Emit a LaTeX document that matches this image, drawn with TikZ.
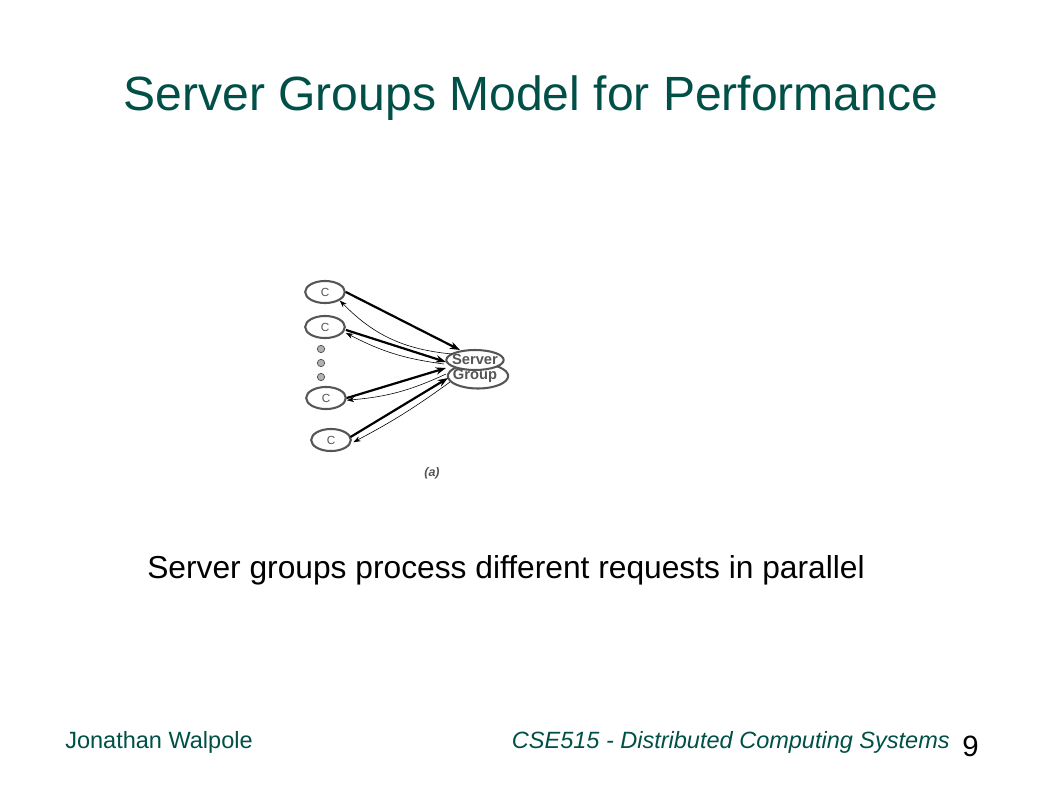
\documentclass[tikz,border=0pt]{standalone}
\usepackage{fontspec}
\setmainfont{Liberation Sans}
\usetikzlibrary{arrows.meta,shapes.geometric}
\definecolor{teal1}{RGB}{0,80,72}
\definecolor{ellgray}{RGB}{85,85,85}
\begin{document}
\begin{tikzpicture}[x=0.6805pt,y=-0.6805pt,
  cnode/.style={draw=ellgray,line width=1.4pt,ellipse,minimum width=27pt,minimum height=15pt,inner sep=0pt,font=\fontsize{8}{9}\selectfont\color{ellgray}},
  sgell/.style={draw=ellgray,line width=1.4pt,ellipse,inner sep=0pt},
  sgtext/.style={font=\bfseries\fontsize{10}{11}\selectfont,text=ellgray,inner sep=0pt},
  dotn/.style={circle,draw=ellgray,fill=gray!60,line width=0.5pt,minimum size=5pt,inner sep=0pt},
  req/.style={line width=1.5pt,-{Stealth[length=7pt,width=5pt]}},
  rep/.style={line width=0.4pt,-{Stealth[length=5pt,width=3.5pt]}},
  every node/.style={text depth=0pt}]
\useasboundingbox (0,0) rectangle (1058,793);
\fill[white] (0,0) rectangle (1058,793);
% title
\node[anchor=base,text=teal1,font=\fontsize{32.7}{38}\selectfont] (title) at (531,110) {Server Groups Model for Performance};
% diagram
\node[cnode] (c1) at (325,292) {C};
\node[cnode] (c2) at (325,327) {C};
\node[dotn] (d1) at (321,349) {};
\node[dotn] (d2) at (321,363) {};
\node[dotn] (d3) at (321,377) {};
\node[cnode] (c3) at (326,398) {C};
\node[cnode] (c4) at (331,440) {C};
\node[sgell,minimum width=41pt,minimum height=17pt] (sgb) at (478,376) {};
\node[sgell,minimum width=39pt,minimum height=13.6pt,fill=white] (sgt) at (475,360) {};
\node[sgtext] (sgt1) at (475,359) {Server};
\node[sgtext] (sgt2) at (475,374) {Group};
\coordinate (s1) at (460,350);
\coordinate (s1r) at (452,354);
\coordinate (s2) at (446,362);
\coordinate (s2r) at (444,364);
\coordinate (s3) at (446,368);
\coordinate (s3r) at (446,374);
\coordinate (s4) at (448,378);
\coordinate (s4r) at (450,382);
\draw[req] (c1.east) -- (s1);
\draw[rep] (s1r) to[bend left=20] (c1.-30);
\draw[req] ([yshift=-2pt]c2.east) -- (s2);
\draw[rep] (s2r) to[bend left=10] ([yshift=-4pt]c2.east);
\draw[req] (c3.east) -- (s3);
\draw[rep] (s3r) to[bend left=10] ([yshift=-1.5pt]c3.east);
\draw[req] ([xshift=-1pt,yshift=2pt]c4.east) -- (s4);
\draw[rep] (s4r) to[bend left=4] ([xshift=1pt,yshift=-1.5pt]c4.east);
\node[anchor=base,font=\bfseries\itshape\fontsize{8.5}{9}\selectfont,text=ellgray] (cap) at (432,476) {(a)};
% body text
\node[anchor=base west,inner sep=0pt,font=\fontsize{21.6}{26}\selectfont] (body) at (147,578) {Server groups process different requests in parallel};
% footer
\node[anchor=base west,inner sep=0pt,text=teal1,font=\fontsize{16}{19}\selectfont] (author) at (65,748) {Jonathan Walpole};
\node[anchor=base east,inner sep=0pt,text=teal1,font=\itshape\fontsize{16}{19}\selectfont] (course) at (950,748) {CSE515 - Distributed Computing Systems};
\node[anchor=base west,inner sep=0pt,font=\fontsize{20}{24}\selectfont] (pnum) at (962,756) {9};
\end{tikzpicture}
\end{document}
